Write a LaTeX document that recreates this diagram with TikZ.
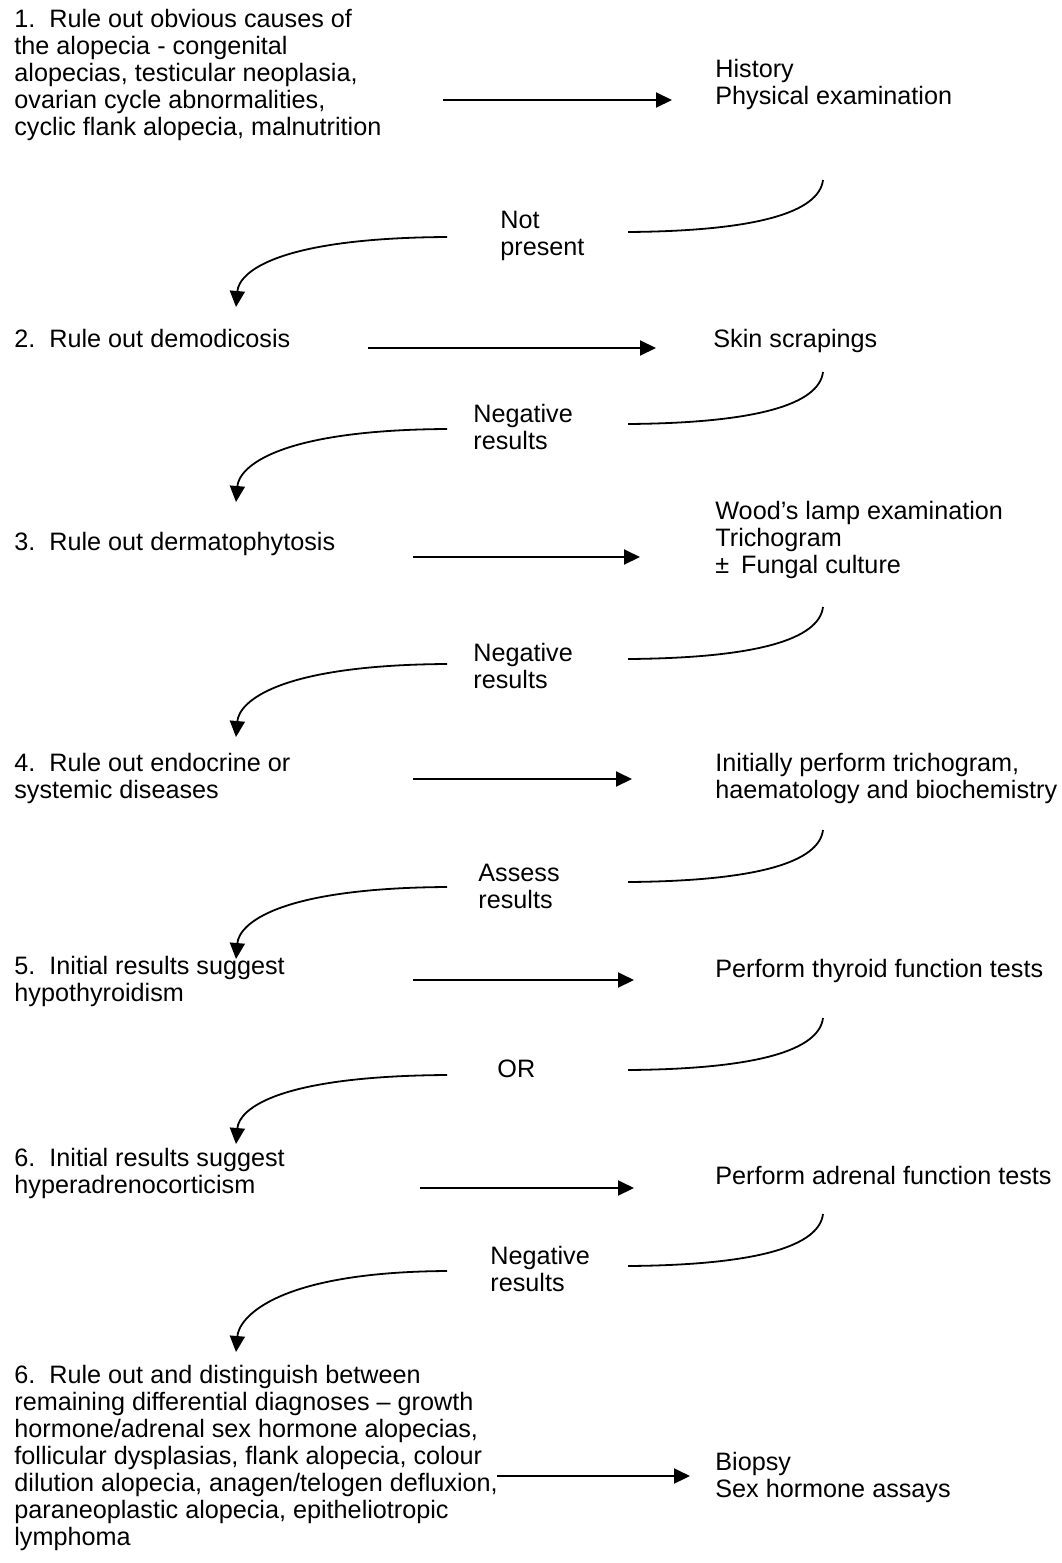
\documentclass[tikz,border=0pt]{standalone}
\usepackage{fontspec}
\setmainfont{Liberation Sans}
\usetikzlibrary{arrows.meta}
\tikzset{%
    >={Triangle[length=8pt,width=7.5pt]},
    txt/.style={anchor=north west,inner sep=0pt,align=left,font=\fontsize{12.6}{13.5}\selectfont},
    hflow/.style={line width=1pt,->},
    loopline/.style={line width=0.9pt}
}
\newcommand\FlowBend[3]{%
    \coordinate (#1r) at (823,#2);
    \coordinate (#1m) at (628,#2+52);
    \coordinate (#1n) at (447,#2+57);
    \coordinate (#1t) at (236,#3);
    \draw[loopline] (#1r) .. controls +(-4,32) and +(130,-1) .. (#1m);
    \draw[loopline,->] (#1n) .. controls +(-170,1) and +(3,-35) .. (#1t)
}
\newcommand\FlowArrow[4]{%
    \coordinate (#1s) at (#2,#4);
    \coordinate (#1e) at (#3,#4);
    \draw[hflow] (#1s) -- (#1e)
}

\begin{document}
\begin{tikzpicture}[x=0.5pt,y=-0.5pt]
    \useasboundingbox (0,0) rectangle (1061,1563);

    \node[txt] (step1) at (14,9) {1.\ \ Rule out obvious causes of\\the alopecia - congenital\\alopecias, testicular neoplasia,\\ovarian cycle abnormalities,\\cyclic flank alopecia, malnutrition};
    \node[txt] (test1) at (715,59) {History\\Physical examination};
    \FlowArrow{a1}{443}{672}{100};
    \node[txt] (lab1) at (500,211) {Not\\present};
    \FlowBend{b1}{180}{307};

    \node[txt] (step2) at (14,329) {2.\ \ Rule out demodicosis};
    \node[txt] (test2) at (713,329) {Skin scrapings};
    \FlowArrow{a2}{368}{656}{348};
    \node[txt] (lab2) at (473,404) {Negative\\results};
    \FlowBend{b2}{372}{502};

    \node[txt] (step3) at (14,532) {3.\ \ Rule out dermatophytosis};
    \node[txt] (test3) at (715,501) {Wood’s lamp examination\\Trichogram\\±\hspace{6pt}Fungal culture};
    \FlowArrow{a3}{413}{640}{557};
    \node[txt] (lab3) at (473,643) {Negative\\results};
    \FlowBend{b3}{607}{737};

    \node[txt] (step4) at (14,753) {4.\ \ Rule out endocrine or\\systemic diseases};
    \node[txt] (test4) at (715,753) {Initially perform trichogram,\\haematology and biochemistry};
    \FlowArrow{a4}{413}{632}{779};
    \node[txt] (lab4) at (478,864) {Assess\\results};
    \FlowBend{b4}{830}{959};

    \node[txt] (step5) at (14,956) {5.\ \ Initial results suggest\\hypothyroidism};
    \node[txt] (test5) at (715,959) {Perform thyroid function tests};
    \FlowArrow{a5}{413}{634}{980};
    \node[txt] (lab5) at (497,1059) {OR};
    \FlowBend{b5}{1018}{1144};

    \node[txt] (step6) at (14,1148) {6.\ \ Initial results suggest\\hyperadrenocorticism};
    \node[txt] (test6) at (715,1166) {Perform adrenal function tests};
    \FlowArrow{a6}{420}{634}{1188};
    \node[txt] (lab6) at (490,1246) {Negative\\results};
    \FlowBend{b6}{1214}{1352};

    \node[txt] (step7) at (14,1365) {6.\ \ Rule out and distinguish between\\remaining differential diagnoses – growth\\hormone/adrenal sex hormone alopecias,\\follicular dysplasias, flank alopecia, colour\\dilution alopecia, anagen/telogen defluxion,\\paraneoplastic alopecia, epitheliotropic\\lymphoma};
    \node[txt] (test7) at (715,1452) {Biopsy\\Sex hormone assays};
    \FlowArrow{a7}{497}{690}{1476};
\end{tikzpicture}
\end{document}
